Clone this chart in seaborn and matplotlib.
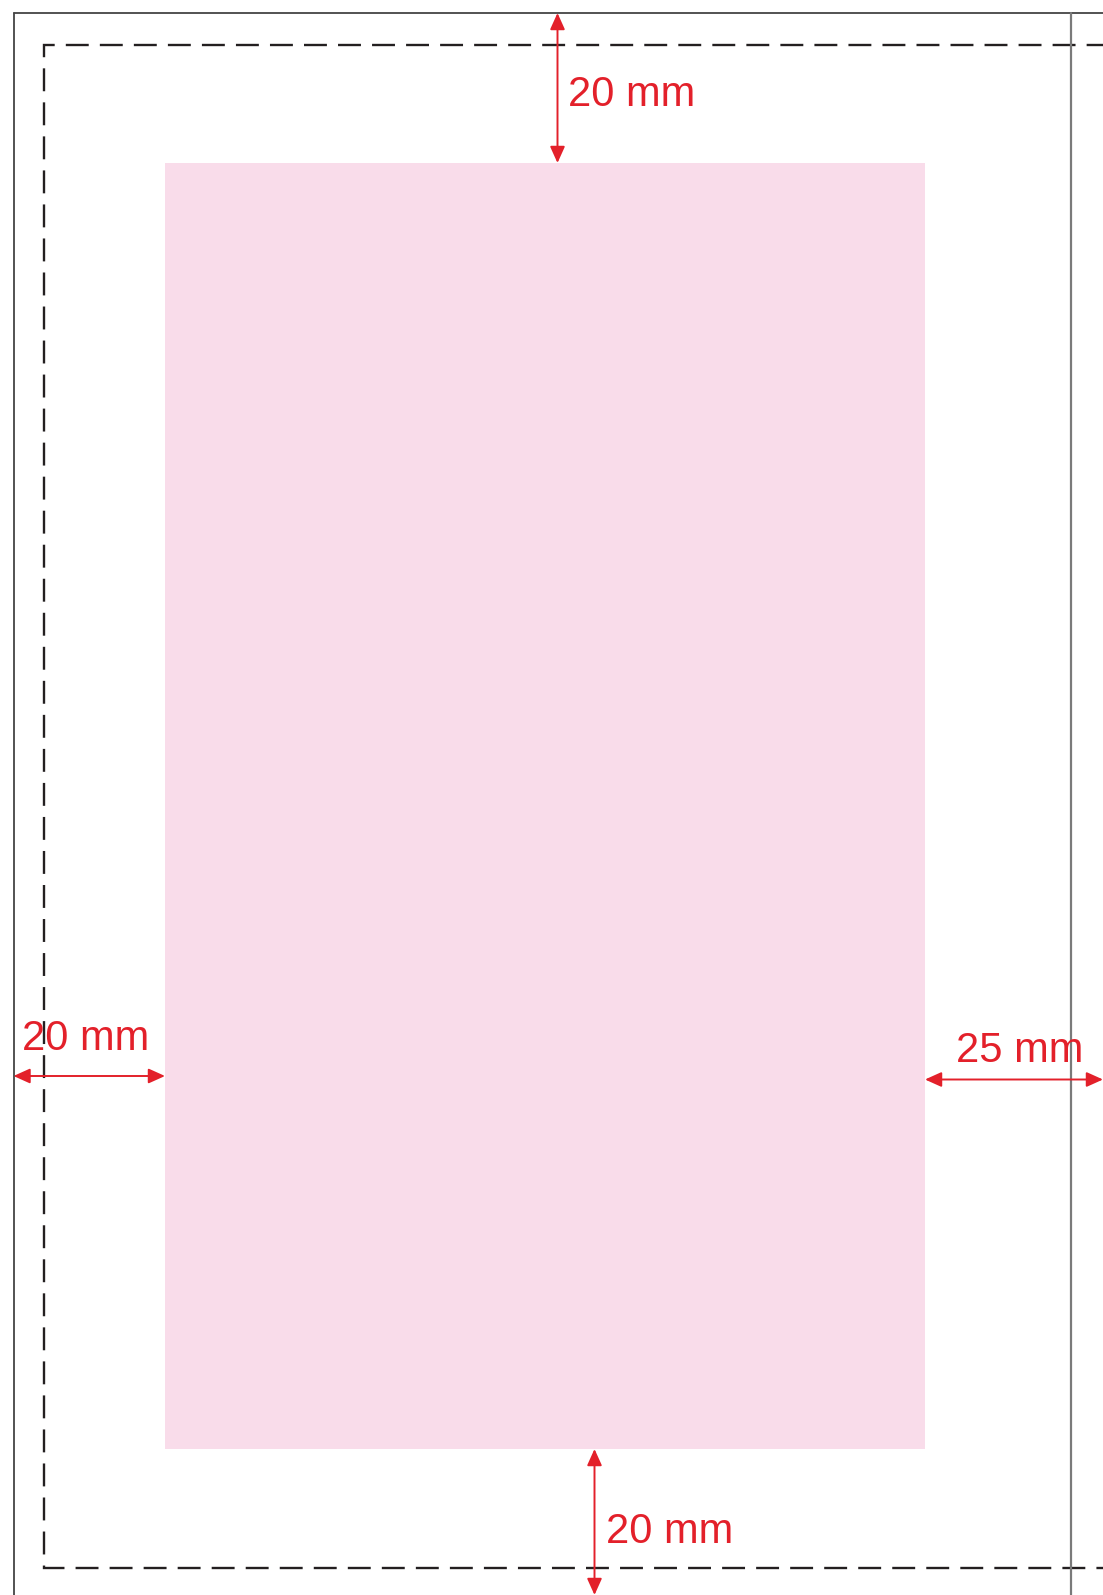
import matplotlib
matplotlib.use("Agg")
import matplotlib.pyplot as plt
from matplotlib.patches import Rectangle, FancyArrowPatch
import seaborn as sns

# margin values shown on the page diagram (mm)
margin_sides = ["top", "left", "right", "bottom"]
margin_mm = [20, 20, 25, 20]
margin_labels = [f"{v} mm" for v in margin_mm]

W, H = 1103, 1595
RED = "#e3202a"
PINK = "#f9dcea"

sns.set_style("white")
plt.rcParams["font.family"] = ["Liberation Sans", "DejaVu Sans"]
plt.rcParams["lines.scale_dashes"] = False

fig = plt.figure(figsize=(W / 100, H / 100), dpi=100)
ax = fig.add_axes([0, 0, 1, 1])
ax.set_xlim(0, W)
ax.set_ylim(H, 0)
ax.axis("off")

# page geometry in pixels
page_l, page_t, page_r = 13.5, 13, 1071
bleed_l, bleed_t, bleed_b = 44, 44.5, 1568
box_l, box_t, box_r, box_b = 165, 163, 925, 1449

# print area
ax.add_patch(Rectangle((box_l, box_t), box_r - box_l, box_b - box_t,
                       facecolor=PINK, edgecolor="none", zorder=1))

# page edge (solid)
ax.plot([page_l, page_l], [page_t, H + 5], color="#444444", lw=1.3, zorder=3)
ax.plot([page_l, W + 5], [page_t, page_t], color="#444444", lw=1.3, zorder=3)
ax.plot([page_r, page_r], [page_t, H + 5], color="#7a7a7a", lw=1.6, zorder=3)

# dashed margin line: top, left and bottom sides as one path
ax.plot([W + 5, bleed_l, bleed_l, W + 5], [bleed_t, bleed_t, bleed_b, bleed_b],
        color="#231f20", lw=1.7, ls=(4, (16.5, 8.0)),
        solid_joinstyle="miter", dash_joinstyle="miter", zorder=2)


def arrow(p0, p1):
    a = FancyArrowPatch(p0, p1, arrowstyle="<|-|>,head_length=1.0,head_width=0.45",
                        mutation_scale=10, color=RED, lw=1.4,
                        shrinkA=0, shrinkB=0, zorder=4)
    ax.add_patch(a)


arrow_pos = {
    "top": ((557.5, page_t), (557.5, box_t)),
    "left": ((page_l, 1076), (box_l, 1076)),
    "right": ((box_r, 1079.5), (W, 1079.5)),
    "bottom": ((594.5, box_b), (594.5, H)),
}
text_pos = {
    "top": (568, 106),
    "left": (22.5, 1050.5),
    "right": (956, 1062),
    "bottom": (606, 1543),
}

for side, label in zip(margin_sides, margin_labels):
    p0, p1 = arrow_pos[side]
    arrow(p0, p1)
    tx, ty = text_pos[side]
    ax.text(tx, ty, label, color=RED, fontsize=30, ha="left", va="baseline",
            zorder=5)

fig.savefig("out.png", dpi=100)
